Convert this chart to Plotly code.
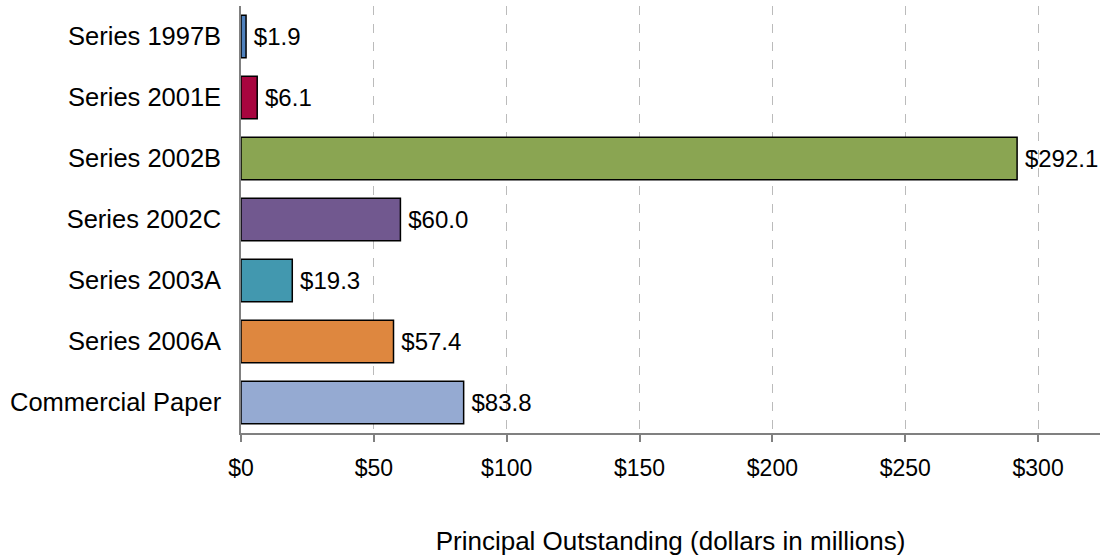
import plotly.graph_objects as go

# Data
series = ['Series 1997B', 'Series 2001E', 'Series 2002B', 'Series 2002C',
          'Series 2003A', 'Series 2006A', 'Commercial Paper']
principal = [1.9, 6.1, 292.1, 60.0, 19.3, 57.4, 83.8]
colors = ['#4F81BD', '#A8053F', '#8AA552', '#71588F', '#4298AF', '#DE873F', '#95AAD2']
x_ticks = [0, 50, 100, 150, 200, 250, 300]
x_ticklabels = ['$0', '$50', '$100', '$150', '$200', '$250', '$300']

fig = go.Figure()

fig.add_trace(go.Bar(
    y=series,
    x=principal,
    orientation='h',
    marker=dict(color=colors, line=dict(color='black', width=1.5)),
    text=['\u2009${:.1f}'.format(v) for v in principal],
    textposition='outside',
    textfont=dict(size=24, color='black'),
    cliponaxis=False,
    width=0.7,
))

fig.update_layout(
    width=1100,
    height=557,
    margin=dict(l=241, r=0, t=6, b=124),
    plot_bgcolor='white',
    paper_bgcolor='white',
    font=dict(family='Liberation Sans, Arial, sans-serif', size=23, color='black'),
    showlegend=False,
    uniformtext=dict(mode=False),
    xaxis=dict(
        range=[0, 323.3],
        tickvals=x_ticks,
        ticktext=x_ticklabels,
        tickfont=dict(size=23),
        showgrid=True,
        gridcolor='#BBBBBB',
        griddash='dash',
        gridwidth=1,
        zeroline=False,
        showline=True,
        linecolor='#808080',
        linewidth=1.5,
        ticks='outside',
        ticklen=7,
        tickcolor='#808080',
        tickwidth=1.5,
        ticklabelstandoff=7,
        automargin=False,
        title=dict(text='Principal Outstanding (dollars in millions)', standoff=51,
                   font=dict(size=26)),
    ),
    yaxis=dict(
        autorange='reversed',
        showline=True,
        linecolor='#808080',
        linewidth=1.5,
        showgrid=False,
        ticks='',
        tickfont=dict(size=25.5),
        ticklabelstandoff=13,
        automargin=False,
    ),
)

fig.write_html("out.html", config={'displayModeBar': False},
               post_script="document.body.style.margin='0';")
